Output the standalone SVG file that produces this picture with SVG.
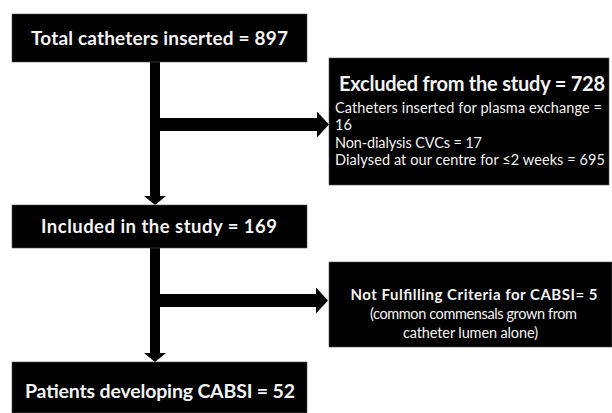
<svg xmlns="http://www.w3.org/2000/svg" width="612" height="413" viewBox="0 0 612 413">
<defs>
<marker id="ah" markerUnits="userSpaceOnUse" markerWidth="12" markerHeight="26" refX="0" refY="13" orient="auto">
<path d="M0,0 L12,13 L0,26 Z" fill="#000"/>
</marker>
<marker id="av" markerUnits="userSpaceOnUse" markerWidth="9" markerHeight="22" refX="0" refY="11" orient="auto">
<path d="M0,0 L9,11 L0,22 Z" fill="#000"/>
</marker>
<style>
.box{fill:#000;stroke:#555;stroke-width:0.6}
.t{fill:#f4f4f4;font-family:Lato,"Open Sans","Liberation Sans",sans-serif}
.b{font-weight:bold}
.c{text-anchor:middle}
.sh{stroke:#000;fill:none}
</style>
</defs>
<rect width="612" height="413" fill="#fff"/>
<g id="connectors">
<line class="sh" x1="155" y1="62" x2="155" y2="196" stroke-width="10" marker-end="url(#av)"/>
<line class="sh" x1="155" y1="248" x2="155" y2="353" stroke-width="10" marker-end="url(#av)"/>
<line class="sh" x1="150" y1="124.5" x2="317" y2="124.5" stroke-width="13" marker-end="url(#ah)"/>
<line class="sh" x1="150" y1="300.5" x2="316" y2="300.5" stroke-width="13" marker-end="url(#ah)"/>
</g>
<g id="n1">
<rect class="box" x="12" y="14" width="295" height="48"/>
<text class="t b c" x="159.5" y="45" font-size="19" textLength="257">Total catheters inserted = 897</text>
</g>
<g id="n2">
<rect class="box" x="329" y="58" width="280" height="127"/>
<text class="t b" x="339" y="91" font-size="20" textLength="266">Excluded from the study = 728</text>
<text class="t" x="335" y="113" font-size="14.5" textLength="267">Catheters inserted for plasma exchange =</text>
<text class="t" x="335" y="130" font-size="14.5">16</text>
<text class="t" x="335" y="148" font-size="14.5" textLength="147">Non-dialysis CVCs = 17</text>
<text class="t" x="335" y="165" font-size="14.5" textLength="270">Dialysed at our centre for ≤2 weeks = 695</text>
</g>
<g id="n3">
<rect class="box" x="12" y="205" width="295" height="43"/>
<text class="t b c" x="159" y="233" font-size="18.5" textLength="236">Included in the study = 169</text>
</g>
<g id="n4">
<rect class="box" x="329" y="262" width="283" height="85"/>
<text class="t b c" x="474" y="300" font-size="15" textLength="247">Not Fulfilling Criteria for CABSI= 5</text>
<text class="t c" x="473.5" y="319" font-size="14.5" textLength="207">(common commensals grown from</text>
<text class="t c" x="470.5" y="338" font-size="14.5" textLength="135">catheter lumen alone)</text>
</g>
<g id="n5">
<rect class="box" x="12" y="362" width="295" height="51"/>
<text class="t b c" x="160" y="398" font-size="19.5" textLength="270">Patients developing CABSI = 52</text>
</g>
</svg>
